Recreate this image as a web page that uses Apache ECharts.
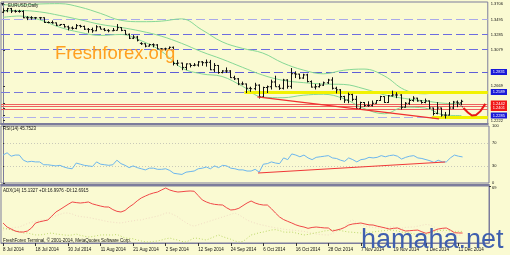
<!DOCTYPE html>
<html><head><meta charset="utf-8">
<script src="https://cdn.jsdelivr.net/npm/echarts@6/dist/echarts.min.js"></script>
<style>html,body{margin:0;padding:0;background:#fafad2;}#c{width:510px;height:255px;}</style>
</head><body><div id="c"></div><script>
const categories = ["8 Jul 2014","9 Jul 2014","10 Jul 2014","11 Jul 2014","14 Jul 2014","15 Jul 2014","16 Jul 2014","17 Jul 2014","18 Jul 2014","21 Jul 2014","22 Jul 2014","23 Jul 2014","24 Jul 2014","25 Jul 2014","28 Jul 2014","29 Jul 2014","30 Jul 2014","31 Jul 2014",
"1 Aug 2014","4 Aug 2014","5 Aug 2014","6 Aug 2014","7 Aug 2014","8 Aug 2014","11 Aug 2014","12 Aug 2014","13 Aug 2014","14 Aug 2014","15 Aug 2014","18 Aug 2014","19 Aug 2014","20 Aug 2014","21 Aug 2014","22 Aug 2014","25 Aug 2014","26 Aug 2014","27 Aug 2014","28 Aug 2014","29 Aug 2014",
"1 Sep 2014","2 Sep 2014","3 Sep 2014","4 Sep 2014","5 Sep 2014","8 Sep 2014","9 Sep 2014","10 Sep 2014","11 Sep 2014","12 Sep 2014","15 Sep 2014","16 Sep 2014","17 Sep 2014","18 Sep 2014","19 Sep 2014","22 Sep 2014","23 Sep 2014","24 Sep 2014","25 Sep 2014","26 Sep 2014","29 Sep 2014","30 Sep 2014",
"1 Oct 2014","2 Oct 2014","3 Oct 2014","6 Oct 2014","7 Oct 2014","8 Oct 2014","9 Oct 2014","10 Oct 2014","13 Oct 2014","14 Oct 2014","15 Oct 2014","16 Oct 2014","17 Oct 2014","20 Oct 2014","21 Oct 2014","22 Oct 2014","23 Oct 2014","24 Oct 2014","27 Oct 2014","28 Oct 2014","29 Oct 2014","30 Oct 2014","31 Oct 2014",
"3 Nov 2014","4 Nov 2014","5 Nov 2014","6 Nov 2014","7 Nov 2014","10 Nov 2014","11 Nov 2014","12 Nov 2014","13 Nov 2014","14 Nov 2014","17 Nov 2014","18 Nov 2014","19 Nov 2014","20 Nov 2014","21 Nov 2014","24 Nov 2014","25 Nov 2014","26 Nov 2014","27 Nov 2014","28 Nov 2014",
"1 Dec 2014","2 Dec 2014","3 Dec 2014","4 Dec 2014","5 Dec 2014","8 Dec 2014","9 Dec 2014","10 Dec 2014","11 Dec 2014","12 Dec 2014","15 Dec 2014","16 Dec 2014","17 Dec 2014","18 Dec 2014","19 Dec 2014","22 Dec 2014"];

const openP = [1.3595,1.3615,1.3640,1.3610,1.3605,1.3605,1.3525,1.3525,1.3525,1.3525,
1.3525,1.3465,1.3465,1.3460,1.3430,1.3440,1.3410,1.3395,1.3390,1.3425,
1.3415,1.3380,1.3375,1.3360,1.3410,1.3380,1.3365,1.3360,1.3365,1.3400,
1.3365,1.3315,1.3265,1.3280,1.3200,1.3195,1.3165,1.3185,1.3180,1.3130,
1.3130,1.3130,1.3150,1.2945,1.2950,1.2895,1.2940,1.2920,1.2925,1.2965,
1.2955,1.2960,1.2865,1.2920,1.2830,1.2850,1.2850,1.2765,1.2750,1.2685,
1.2685,1.2630,1.2625,1.2670,1.2520,1.2640,1.2650,1.2710,1.2650,1.2630,
1.2735,1.2655,1.2815,1.2810,1.2760,1.2800,1.2715,1.2645,1.2650,1.2670,
1.2700,1.2735,1.2630,1.2610,1.2525,1.2480,1.2550,1.2490,1.2375,1.2450,
1.2410,1.2410,1.2440,1.2475,1.2525,1.2450,1.2535,1.2545,1.2545,1.2390,
1.2440,1.2475,1.2505,1.2470,1.2450,1.2470,1.2380,1.2310,1.2380,1.2290,
1.2290,1.2380,1.2455,1.2445];
const highP = [1.3645,1.3650,1.3650,1.3625,1.3625,1.3620,1.3545,1.3545,1.3535,1.3535,
1.3530,1.3480,1.3490,1.3465,1.3445,1.3445,1.3425,1.3415,1.3445,1.3435,
1.3425,1.3395,1.3400,1.3430,1.3415,1.3395,1.3380,1.3395,1.3445,1.3405,
1.3370,1.3325,1.3305,1.3295,1.3215,1.3200,1.3195,1.3200,1.3190,1.3140,
1.3145,1.3160,1.3160,1.2990,1.2955,1.2945,1.2945,1.2950,1.2975,1.2975,
1.2995,1.2990,1.2950,1.2925,1.2860,1.2895,1.2860,1.2790,1.2760,1.2715,
1.2690,1.2650,1.2700,1.2680,1.2650,1.2665,1.2740,1.2790,1.2680,1.2750,
1.2745,1.2887,1.2845,1.2815,1.2815,1.2815,1.2730,1.2685,1.2695,1.2715,
1.2750,1.2770,1.2650,1.2620,1.2535,1.2575,1.2560,1.2535,1.2460,1.2455,
1.2465,1.2475,1.2480,1.2535,1.2530,1.2545,1.2600,1.2580,1.2555,1.2455,
1.2500,1.2530,1.2510,1.2480,1.2500,1.2475,1.2385,1.2455,1.2385,1.2330,
1.2455,1.2470,1.2475,1.2485];
const lowP = [1.3585,1.3595,1.3585,1.3590,1.3590,1.3520,1.3495,1.3500,1.3505,1.3500,
1.3460,1.3455,1.3450,1.3420,1.3425,1.3400,1.3365,1.3375,1.3380,1.3400,
1.3370,1.3335,1.3335,1.3355,1.3380,1.3355,1.3340,1.3355,1.3365,1.3355,
1.3310,1.3255,1.3255,1.3225,1.3180,1.3150,1.3160,1.3150,1.3130,1.3115,
1.3110,1.3120,1.2920,1.2915,1.2860,1.2860,1.2895,1.2910,1.2905,1.2915,
1.2905,1.2860,1.2835,1.2815,1.2820,1.2825,1.2760,1.2735,1.2670,1.2670,
1.2570,1.2585,1.2605,1.2500,1.2515,1.2570,1.2615,1.2650,1.2610,1.2615,
1.2625,1.2625,1.2760,1.2745,1.2750,1.2705,1.2640,1.2615,1.2640,1.2660,
1.2685,1.2615,1.2565,1.2480,1.2445,1.2440,1.2465,1.2365,1.2357,1.2395,
1.2395,1.2400,1.2435,1.2470,1.2445,1.2445,1.2525,1.2505,1.2360,1.2385,
1.2420,1.2460,1.2460,1.2435,1.2440,1.2365,1.2285,1.2300,1.2270,1.2246,
1.2285,1.2365,1.2390,1.2415];
const closeP = [1.3615,1.3640,1.3610,1.3605,1.3605,1.3525,1.3525,1.3525,1.3525,1.3525,
1.3465,1.3465,1.3460,1.3430,1.3440,1.3410,1.3395,1.3390,1.3425,1.3415,
1.3380,1.3375,1.3360,1.3410,1.3380,1.3365,1.3360,1.3365,1.3400,1.3365,
1.3315,1.3265,1.3280,1.3240,1.3195,1.3165,1.3185,1.3180,1.3130,1.3130,
1.3130,1.3150,1.2945,1.2950,1.2895,1.2940,1.2920,1.2925,1.2965,1.2955,
1.2960,1.2865,1.2920,1.2830,1.2850,1.2850,1.2765,1.2750,1.2685,1.2685,
1.2630,1.2625,1.2670,1.2520,1.2640,1.2650,1.2710,1.2650,1.2630,1.2735,
1.2655,1.2815,1.2810,1.2760,1.2800,1.2715,1.2645,1.2650,1.2670,1.2700,
1.2735,1.2630,1.2610,1.2525,1.2480,1.2550,1.2490,1.2375,1.2450,1.2410,
1.2410,1.2440,1.2475,1.2525,1.2450,1.2535,1.2545,1.2545,1.2390,1.2440,
1.2475,1.2505,1.2470,1.2450,1.2470,1.2380,1.2310,1.2380,1.2290,1.2290,
1.2380,1.2455,1.2445,1.2465];

// Bollinger bands read at selected bars: [bar index, price]
const bbUpper = [[0,1.3690],[4,1.3687],[9,1.3700],[14,1.3704],[19,1.3660],[24,1.3581],[29,1.3493],[34,1.3475],[39,1.3482],[44,1.3511],[49,1.3373],[54,1.3220],[59,1.3137],[64,1.3078],[69,1.2951],[74,1.2862],[79,1.2814],[84,1.2859],[89,1.2874],[94,1.2787],[99,1.2611],[104,1.2560],[109,1.2589],[113,1.2584]];
const bbMiddle = [[0,1.3610],[4,1.3617],[9,1.3600],[14,1.3554],[19,1.3500],[24,1.3441],[29,1.3403],[34,1.3355],[39,1.3292],[44,1.3201],[49,1.3093],[54,1.3000],[59,1.2897],[64,1.2798],[69,1.2731],[74,1.2702],[79,1.2684],[84,1.2679],[89,1.2624],[94,1.2547],[99,1.2501],[104,1.2470],[109,1.2439],[113,1.2434]];
const bbLower = [[0,1.3530],[4,1.3547],[9,1.3500],[14,1.3404],[19,1.3340],[24,1.3301],[29,1.3313],[34,1.3235],[39,1.3102],[44,1.2891],[49,1.2813],[54,1.2780],[59,1.2657],[64,1.2518],[69,1.2511],[74,1.2542],[79,1.2554],[84,1.2499],[89,1.2374],[94,1.2307],[99,1.2391],[104,1.2380],[109,1.2289],[113,1.2284]];

const dashedLevels = [1.3509,1.3319,1.3129,1.2837,1.2583,1.2262];
const dashedColors = ['#a9a9ea','#6c6ce0','#6c6ce0','#5e5ed8','#7a7ad8','#b0b0ea'];
const redLevels = [1.2427,1.2397,1.2364];
const yellowSegs = [[[59.5,1.2583],[119.5,1.2583]],[[105.7,1.2262],[119.5,1.2262]]];
const priceTrend = [[62.7,1.2520],[107.5,1.2241]];
const forecastDots = [[112.4,1.2431],[113.5,1.2385]];
const forecast = [[113.5,1.2380],[114.6,1.2322],[115.6,1.2284],[116.6,1.2290],[117.7,1.2340],[118.9,1.2432]];

const priceTickValues = [1.3702,1.3503,1.3310,1.3116,1.2837,1.2656,1.2583,1.2437,1.2380,1.2285,1.2219];
const priceTickTexts = ['1.3706','1.3495','1.3285','1.3079','1.2831','1.2669','1.2589','1.2442','1.2401','1.2285','1.2222'];
const priceTickKinds = ['p','p','p','p','b','p','b','r','r','b','p'];

const rsi = [49,53,47,49,49,40,37,38,37,37, 32,32,31,30,31,28,26,25,35,33, 31,30,29,37,33,32,31,32,40,34,
31,27,30,27,25,23,26,26,24,24, 25,22,17,16,15,19,20,21,25,26, 28,25,30,27,31,30,26,25,23,23,
21,21,24,19,33,34,37,35,34,44, 41,51,49,46,49,44,41,45,46,47, 48,44,43,40,38,44,41,37,41,42,
45,44,45,48,46,48,49,47,42,45, 47,48,44,43,41,39,36,40,37,37, 44,49,47,45.75];
const rsiLevels = [30,70];
const rsiTicks = [0,30,70,100];
const rsiTrend = [[62.7,17.5],[108.7,36.8]];

const adx = [26.6,22,19.7,17.4,16.3,16.3,17.4,20.9,26.6,28, 29,30,34.5,39.2,42,45,48,50.7,50,49.5,
50,50.7,48.5,47.2,46,45,44.9,42,40,39.2, 41,44.9,48,52,55.3,57.5,59.5,61,62.1,64.5,
66.7,64.4,63,62.1,62.5,63,63.3,63,58,53, 50.7,49,48,47.5,47.2,44,41.5,42,43.5,46.5,
49.5,51.8,49.5,48,47.2,47.2,43,38,33.5,30.5, 28.5,26.6,24.5,23,22,20.5,21.5,22,21.5,21,
20.9,17.4,18.5,19.7,21.5,24.3,25.5,26,26.6,25.5, 24.5,24.3,23,22,20.9,19.7,20.5,20.9,19,17.4,
17.8,18.2,18.5,16.5,14.8,16,18,19.7,20.5,20.9, 18.5,15.5,15.2,15.13];
const plusDI = [20.9,20,18.6,17.5,17,15.2,15.2,14,13,12.9, 13.5,14.5,15.2,14,13.5,12.9,12.5,12.9,14,12.5,
11.5,10.6,11,12,12.9,13,12.9,12.9,13.5,11.5, 9.4,9,8.5,7.1,6,5,4.8,5.5,6,7.1,
8.5,9.4,8,7.1,5.5,4.8,7,9.4,9,8, 7.1,9,11,12.9,11,9.4,8,6,4.8,5.5,
9,12.9,14,15.5,16.3,17.5,18.6,19,18,16.3, 16,16.3,15.2,14,12.9,13.5,14.5,15.5,16.3,17.5,
18,18.6,18.6,18,17,16.3,16,15.5,15.2,15.5, 15.8,16.3,17,17.5,18,18.6,18.2,17.5,16.3,15.5,
15.2,14,13.5,12.9,13.5,14.5,16.3,17.5,18.6,18, 17.5,17,17,17];
const minusDI = [18.6,19.5,20.5,21.5,22,24,26,27.5,28.5,29.5, 30,31,33,35,36.5,38,38.1,37,35,34,
33.5,33,32,31,30,29,28,27.5,27,26.6, 27.5,28.5,29,30,30,31.5,32.5,33.5,34.5,36,
38.1,38,36,33.5,30,27,24.3,23,24.5,26, 27.5,29,30.5,32,33.5,35,36.5,38.1,36,33,
30,28,26.5,25,24,23,22,21,20.5,19.5, 19,18.5,18,17.5,17,16,15,14,13.5,13,
12.9,14.5,17,18.6,22,28,30,26.6,24.3,23, 22,21.5,21,20.9,21.5,22,22,21,20.5,21.5,
22,22,23,24,25,24.3,22,20,17,15, 13.5,12.9,12.8,12.69];

const FONT = 'Liberation Sans';
const AX = '#7c7c9c';
const ohlc = openP.map((o, i) => [i, o, highP[i], lowP[i], closeP[i]]);
const series = [];

// horizontal levels, drawn through the axes as full-width segments
series.push({
  type: 'lines', coordinateSystem: 'cartesian2d', xAxisIndex: 3, yAxisIndex: 0, silent: true, z: 2,
  lineStyle: {width: 1.2, opacity: 1},
  data: dashedLevels.map((v, i) => ({coords: [[-0.5, v], [119.5, v]], lineStyle: {color: dashedColors[i], width: 1.2, type: [9, 4], opacity: 1}}))
    .concat(redLevels.map(v => ({coords: [[-0.5, v], [119.5, v]], lineStyle: {color: '#f06060', width: 1, type: 'solid', opacity: 1}})))
});
series.push({
  type: 'line', xAxisIndex: 3, yAxisIndex: 0, data: bbUpper, smooth: 0.4, symbol: 'none', silent: true,
  lineStyle: {color: '#86d896', width: 1}, z: 3
});
series.push({
  type: 'line', xAxisIndex: 3, yAxisIndex: 0, data: bbMiddle, smooth: 0.4, symbol: 'none', silent: true,
  lineStyle: {color: '#86d896', width: 1}, z: 3
});
series.push({
  type: 'line', xAxisIndex: 3, yAxisIndex: 0, data: bbLower, smooth: 0.4, symbol: 'none', silent: true,
  lineStyle: {color: '#86d896', width: 1}, z: 3
});
series.push({
  type: 'lines', coordinateSystem: 'cartesian2d', xAxisIndex: 3, yAxisIndex: 0, polyline: false, silent: true, z: 4,
  lineStyle: {color: '#f2f200', width: 3, opacity: 1},
  data: yellowSegs.map(s => ({coords: s}))
});
series.push({
  type: 'custom', xAxisIndex: 0, yAxisIndex: 0, data: ohlc, z: 5, silent: true,
  encode: {x: 0, y: [1, 2, 3, 4]},
  renderItem: function (params, api) {
    const i = api.value(0);
    const o = api.coord([i, api.value(1)]);
    const h = api.coord([i, api.value(2)]);
    const l = api.coord([i, api.value(3)]);
    const c = api.coord([i, api.value(4)]);
    const cx = Math.round(o[0]) + 0.5;
    const st = {stroke: '#111', lineWidth: 1};
    return {type: 'group', children: [
      {type: 'line', shape: {x1: cx, y1: h[1], x2: cx, y2: l[1]}, style: st},
      {type: 'line', shape: {x1: cx - 1.6, y1: o[1], x2: cx, y2: o[1]}, style: st},
      {type: 'line', shape: {x1: cx, y1: c[1], x2: cx + 1.6, y2: c[1]}, style: st}
    ]};
  }
});
series.push({
  type: 'lines', coordinateSystem: 'cartesian2d', xAxisIndex: 3, yAxisIndex: 0, polyline: false, silent: true, z: 6,
  lineStyle: {color: '#f03030', width: 1.2, opacity: 1},
  data: [{coords: priceTrend}]
});
series.push({
  type: 'lines', coordinateSystem: 'cartesian2d', xAxisIndex: 3, yAxisIndex: 0, polyline: true, silent: true, z: 6,
  lineStyle: {color: '#222', width: 1, type: 'dotted', opacity: 1},
  data: [{coords: forecastDots}]
});
series.push({
  type: 'lines', coordinateSystem: 'cartesian2d', xAxisIndex: 3, yAxisIndex: 0, polyline: true, silent: true, z: 7,
  symbol: ['none', 'arrow'], symbolSize: 7,
  lineStyle: {color: '#e81818', width: 2, opacity: 1},
  data: [{coords: forecast}]
});
series.push({
  type: 'lines', coordinateSystem: 'cartesian2d', xAxisIndex: 4, yAxisIndex: 1, silent: true, z: 2,
  data: rsiLevels.map(v => ({coords: [[-0.5, v], [119.5, v]], lineStyle: {color: '#c9c9b9', width: 1, type: [1, 2], opacity: 1}}))
});
series.push({
  type: 'line', xAxisIndex: 1, yAxisIndex: 1, data: rsi, symbol: 'none', silent: true,
  lineStyle: {color: '#6cb6ee', width: 1}, z: 5
});
series.push({
  type: 'lines', coordinateSystem: 'cartesian2d', xAxisIndex: 4, yAxisIndex: 1, silent: true, z: 6,
  lineStyle: {color: '#f03838', width: 1.2, opacity: 1},
  data: [{coords: rsiTrend}]
});
series.push({
  type: 'line', xAxisIndex: 2, yAxisIndex: 2, data: minusDI, symbol: 'none', silent: true,
  lineStyle: {color: '#f2dcc4', width: 1, type: [1, 2]}, z: 4
});
series.push({
  type: 'line', xAxisIndex: 2, yAxisIndex: 2, data: plusDI, symbol: 'none', silent: true,
  lineStyle: {color: '#bcd86a', width: 1, type: [1, 2]}, z: 4
});
series.push({
  type: 'line', xAxisIndex: 2, yAxisIndex: 2, data: adx, symbol: 'none', silent: true,
  lineStyle: {color: '#f04848', width: 1}, z: 5
});

function priceLabel(v) {
  let k = 0, best = 1e9;
  priceTickValues.forEach((t, i) => { const d = Math.abs(t - v); if (d < best) { best = d; k = i; } });
  const t = priceTickTexts[k];
  return priceTickKinds[k] === 'p' ? t : '{' + priceTickKinds[k] + '|' + t + '}';
}

const hideAxis = {axisLine: {show: false}, axisTick: {show: false}, axisLabel: {show: false}, splitLine: {show: false}};
const small = {fontFamily: FONT, fontSize: 4.5, color: '#111'};

const option = {
  animation: false,
  backgroundColor: '#fafad2',
  title: [
    {text: '▾', left: 1, top: 1, padding: 0, textStyle: {fontFamily: FONT, fontSize: 6, color: '#223', fontWeight: 'normal'}},
    {text: 'EURUSD,Daily', left: 8, top: 3, padding: 0, textStyle: {...small, fontWeight: 'normal'}},
    {text: 'Freshforex.org', left: 55, top: 44, padding: 0, textStyle: {fontFamily: FONT, fontSize: 18.5, color: '#ffa020', fontWeight: 'normal'}},
    {text: 'RSI(14) 45.7523', left: 3, top: 126, padding: 0, textStyle: {...small, fontWeight: 'normal'}},
    {text: 'ADX(14) 15.1327 +DI:16.9976 -DI:12.6915', left: 3, top: 188, padding: 0, textStyle: {...small, fontWeight: 'normal'}},
    {text: 'FreshForex Terminal, © 2001-2014, MetaQuotes Software Corp.', left: 3, top: 238.5, padding: 0, textStyle: {...small, fontWeight: 'normal'}},
    {text: 'hamaha.net', left: 361, top: 227, padding: 0, textStyle: {fontFamily: FONT, fontSize: 27, color: '#3f5fae', fontWeight: 'normal'}}
  ],
  grid: [
    {left: 1, right: 21, top: 2, height: 122, show: true, borderColor: AX, borderWidth: 1, backgroundColor: 'transparent'},
    {left: 1, right: 21, top: 126, height: 57, show: true, borderColor: AX, borderWidth: 1, backgroundColor: 'transparent'},
    {left: 1, right: 21, top: 186, height: 57, show: true, borderColor: AX, borderWidth: 1, backgroundColor: 'transparent'}
  ],
  xAxis: [
    {type: 'category', gridIndex: 0, data: categories, boundaryGap: true,
      axisLine: {show: true, onZero: false, lineStyle: {color: AX, width: 2}}, axisTick: {show: false}, axisLabel: {show: false}, splitLine: {show: false}},
    {type: 'category', gridIndex: 1, data: categories, boundaryGap: true, offset: 2,
      axisLine: {show: true, onZero: false, lineStyle: {color: AX, width: 2}}, axisTick: {show: false}, axisLabel: {show: false}, splitLine: {show: false}},
    {type: 'category', gridIndex: 2, data: categories, boundaryGap: true,
      axisLine: {show: true, onZero: false, lineStyle: {color: AX, width: 1}},
      axisTick: {show: true, interval: 7, alignWithLabel: true, length: 3, lineStyle: {color: '#333'}},
      axisLabel: {interval: 7, align: 'left', margin: 4, ...small}, splitLine: {show: false}},
    {type: 'value', gridIndex: 0, min: -0.5, max: 119.5, ...hideAxis},
    {type: 'value', gridIndex: 1, min: -0.5, max: 119.5, ...hideAxis}
  ],
  yAxis: [
    {type: 'value', gridIndex: 0, position: 'right', min: 1.2177, max: 1.3725, scale: true,
      axisLine: {show: true, lineStyle: {color: AX}}, splitLine: {show: false},
      axisTick: {show: true, customValues: priceTickValues, length: 2, lineStyle: {color: '#333'}},
      axisLabel: {customValues: priceTickValues, formatter: priceLabel, margin: 3, fontFamily: FONT, fontSize: 4, color: '#111',
        rich: {
          b: {backgroundColor: '#1a1ad8', color: '#fff', fontFamily: FONT, fontSize: 4, padding: [1, 2]},
          r: {backgroundColor: '#f01818', color: '#fff', fontFamily: FONT, fontSize: 4, padding: [1, 2]}
        }}},
    {type: 'value', gridIndex: 1, position: 'right', min: 0, max: 100,
      axisLine: {show: true, lineStyle: {color: AX}}, splitLine: {show: false},
      axisTick: {show: true, customValues: rsiTicks, length: 2, lineStyle: {color: '#333'}},
      axisLabel: {customValues: rsiTicks, margin: 3, fontFamily: FONT, fontSize: 4, color: '#111'}},
    {type: 'value', gridIndex: 2, position: 'right', min: 3.7, max: 69,
      axisLine: {show: true, lineStyle: {color: AX}}, splitLine: {show: false},
      axisTick: {show: true, customValues: [69], length: 2, lineStyle: {color: '#333'}},
      axisLabel: {customValues: [69], margin: 3, verticalAlign: 'top', fontFamily: FONT, fontSize: 4, color: '#111'}}
  ],
  series: series
};

const chart = echarts.init(document.getElementById('c'), null, {renderer: 'canvas'});
chart.setOption(option);
</script></body></html>
